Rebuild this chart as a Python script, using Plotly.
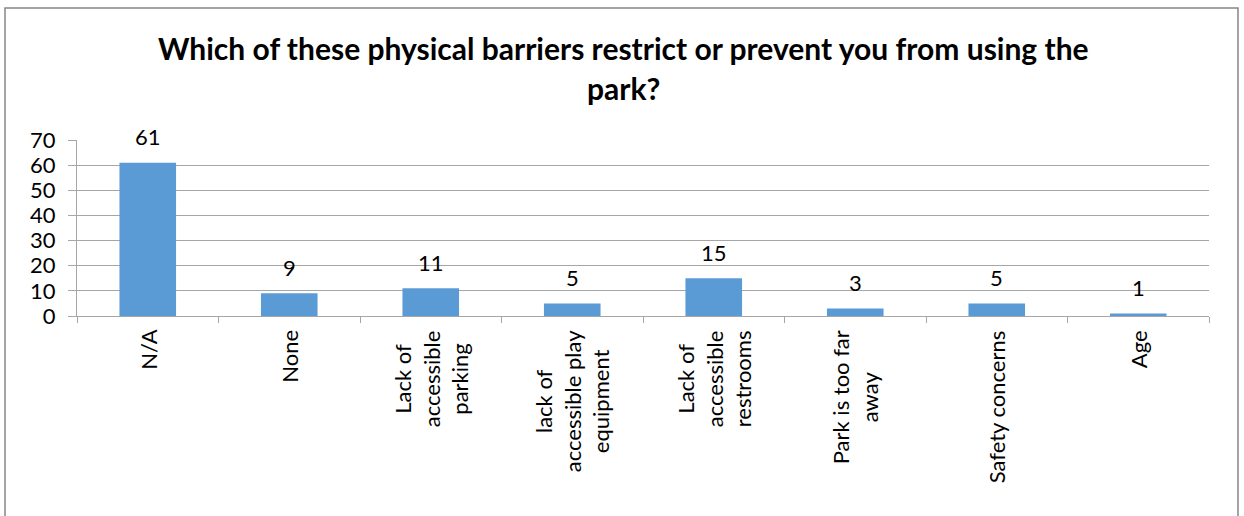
import plotly.graph_objects as go

# Data
categories = [
    "N/A",
    "None",
    "Lack of<br>accessible<br>parking",
    "lack of<br>accessible play<br>equipment",
    "Lack of<br>accessible<br>restrooms",
    "Park is too far<br>away",
    "Safety concerns",
    "Age",
]
counts = [61, 9, 11, 5, 15, 3, 5, 1]
y_ticks = [0, 10, 20, 30, 40, 50, 60, 70]
title_lines = [
    "Which of these physical barriers restrict or prevent you from using the",
    "park?",
]

FONT = "Lato, 'Open Sans', sans-serif"
GRID = "#a6a6a6"
BAR = "#5b9bd5"

fig = go.Figure()
fig.add_trace(
    go.Bar(
        x=categories,
        y=counts,
        marker=dict(color=BAR, line=dict(width=0)),
        hoverinfo="x+y",
    )
)

# value labels above bars
for cat, val in zip(categories, counts):
    fig.add_annotation(
        x=cat, y=val, xref="x", yref="y",
        text=str(val), showarrow=False,
        yanchor="middle", yshift=26,
        font=dict(family=FONT, size=22, color="black"),
    )

# rotated, centre-aligned category labels (Excel style)
for cat in categories:
    fig.add_annotation(
        x=cat, y=0, xref="x", yref="y",
        text=cat, showarrow=False,
        textangle=-90, align="center",
        xanchor="center", yanchor="top", yshift=-12,
        font=dict(family=FONT, size=22, color="black"),
    )

# two-line bold title
for line, ypos in zip(title_lines, [1.525, 1.295]):
    fig.add_annotation(
        x=0.4832, y=ypos, xref="paper", yref="paper",
        text="<b>" + line + "</b>", showarrow=False,
        xanchor="center", yanchor="middle",
        font=dict(family=FONT, size=30, color="black"),
    )

# chart border
fig.add_shape(
    type="rect", xref="paper", yref="paper",
    x0=-0.0636, x1=1.0256, y0=-1.2, y1=1.75,
    line=dict(color="#868686", width=1.5),
    layer="below",
)

fig.update_layout(
    width=1244,
    height=516,
    margin=dict(l=77, r=35, t=140, b=200),
    paper_bgcolor="white",
    plot_bgcolor="white",
    showlegend=False,
    bargap=0.6,
    font=dict(family=FONT, size=22, color="black"),
)
fig.update_xaxes(
    type="category",
    showticklabels=False,
    showline=True, linecolor=GRID, linewidth=1,
    ticks="outside", tickson="boundaries", ticklen=6, tickcolor=GRID,
    showgrid=False,
)
fig.update_yaxes(
    range=[0, 70],
    tickvals=y_ticks,
    showline=True, linecolor=GRID, linewidth=1,
    ticks="outside", ticklen=8, tickcolor=GRID,
    showgrid=True, gridcolor=GRID, gridwidth=1,
    zeroline=False,
    ticklabelstandoff=8,
    tickfont=dict(family=FONT, size=22, color="black"),
)

fig.write_html(
    "out.html",
    config={"displayModeBar": False},
    post_script="document.body.style.margin='0';",
)
